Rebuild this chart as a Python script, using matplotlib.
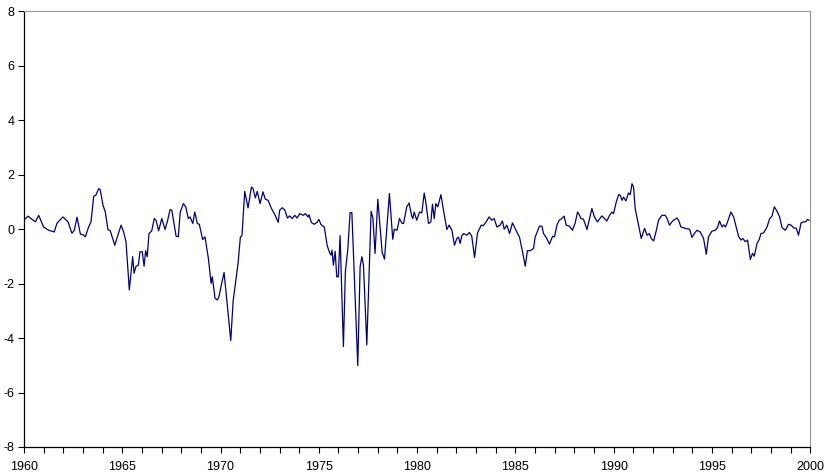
import numpy as np
import matplotlib; matplotlib.use("Agg")
import matplotlib.pyplot as plt
from matplotlib.ticker import MultipleLocator

# vertices (decimal year, value)
years = [
    1960.00, 1960.20, 1960.58, 1960.75, 1961.00, 1961.26, 1961.54, 1961.68, 1961.98, 1962.24,
    1962.44, 1962.56, 1962.70, 1962.87, 1963.00, 1963.12, 1963.29, 1963.41, 1963.55, 1963.66,
    1963.80, 1963.88, 1964.02, 1964.14, 1964.27, 1964.39, 1964.62, 1964.73, 1964.94, 1965.07,
    1965.19, 1965.36, 1965.53, 1965.60, 1965.70, 1965.82, 1965.90, 1966.02, 1966.11, 1966.19,
    1966.27, 1966.36, 1966.50, 1966.63, 1966.72, 1966.85, 1967.01, 1967.18, 1967.31, 1967.43,
    1967.52, 1967.74, 1967.85, 1967.95, 1968.11, 1968.23, 1968.36, 1968.45, 1968.59, 1968.69,
    1968.82, 1968.92, 1969.09, 1969.21, 1969.38, 1969.52, 1969.58, 1969.72, 1969.84, 1969.92,
    1970.04, 1970.18, 1970.52, 1970.64, 1970.89, 1971.01, 1971.09, 1971.23, 1971.40, 1971.57,
    1971.65, 1971.77, 1971.87, 1972.01, 1972.16, 1972.28, 1972.42, 1972.59, 1972.76, 1972.93,
    1973.01, 1973.14, 1973.27, 1973.40, 1973.52, 1973.64, 1973.78, 1973.89, 1974.03, 1974.20,
    1974.32, 1974.45, 1974.50, 1974.62, 1974.76, 1974.91, 1975.00, 1975.11, 1975.28, 1975.42,
    1975.54, 1975.62, 1975.67, 1975.74, 1975.83, 1975.91, 1975.99, 1976.08, 1976.25, 1976.35,
    1976.47, 1976.59, 1976.68, 1976.98, 1977.10, 1977.19, 1977.27, 1977.44, 1977.66, 1977.75,
    1977.86, 1978.00, 1978.13, 1978.22, 1978.34, 1978.59, 1978.76, 1978.84, 1978.98, 1979.10,
    1979.24, 1979.31, 1979.47, 1979.59, 1979.72, 1979.78, 1979.85, 1979.98, 1980.12, 1980.24,
    1980.36, 1980.44, 1980.58, 1980.70, 1980.78, 1980.87, 1980.95, 1981.05, 1981.21, 1981.34,
    1981.51, 1981.63, 1981.77, 1981.90, 1982.02, 1982.10, 1982.19, 1982.27, 1982.36, 1982.53,
    1982.66, 1982.78, 1982.92, 1983.07, 1983.26, 1983.37, 1983.51, 1983.66, 1983.80, 1983.92,
    1984.06, 1984.22, 1984.34, 1984.43, 1984.56, 1984.70, 1984.85, 1985.07, 1985.21, 1985.36,
    1985.50, 1985.61, 1985.75, 1985.92, 1986.00, 1986.14, 1986.22, 1986.35, 1986.43, 1986.58,
    1986.73, 1986.89, 1986.99, 1987.11, 1987.23, 1987.36, 1987.48, 1987.58, 1987.75, 1987.90,
    1988.04, 1988.16, 1988.26, 1988.33, 1988.46, 1988.64, 1988.89, 1989.02, 1989.17, 1989.40,
    1989.52, 1989.65, 1989.79, 1989.91, 1989.99, 1990.13, 1990.25, 1990.33, 1990.42, 1990.50,
    1990.62, 1990.75, 1990.84, 1990.93, 1991.01, 1991.09, 1991.23, 1991.40, 1991.57, 1991.69,
    1991.81, 1991.91, 1992.03, 1992.15, 1992.28, 1992.45, 1992.62, 1992.71, 1992.84, 1992.96,
    1993.04, 1993.22, 1993.30, 1993.42, 1993.64, 1993.86, 1993.98, 1994.10, 1994.23, 1994.40,
    1994.57, 1994.71, 1994.82, 1995.00, 1995.16, 1995.28, 1995.38, 1995.51, 1995.59, 1995.69,
    1995.79, 1995.96, 1996.10, 1996.23, 1996.35, 1996.47, 1996.57, 1996.69, 1996.81, 1996.95,
    1997.06, 1997.15, 1997.29, 1997.40, 1997.49, 1997.62, 1997.80, 1997.93, 1998.05, 1998.17,
    1998.30, 1998.44, 1998.56, 1998.73, 1998.89, 1999.02, 1999.15, 1999.29, 1999.40, 1999.53,
    1999.66, 1999.76, 1999.86, 1999.93,
]
values = [
    0.33, 0.48, 0.27, 0.51, 0.08, -0.04, -0.10, 0.22, 0.45, 0.27,
    -0.15, -0.04, 0.44, -0.18, -0.20, -0.28, 0.08, 0.27, 1.21, 1.25,
    1.49, 1.45, 0.88, 0.63, -0.01, -0.06, -0.59, -0.33, 0.15, -0.10,
    -0.46, -2.23, -1.01, -1.62, -1.36, -1.32, -0.83, -0.83, -1.36, -0.79,
    -1.01, -0.16, -0.06, 0.39, 0.33, -0.06, 0.39, -0.01, 0.33, 0.72,
    0.70, -0.26, -0.28, 0.63, 0.94, 0.82, 0.39, 0.45, 0.21, 0.63,
    0.21, 0.18, -0.38, -0.28, -1.07, -1.99, -1.75, -2.54, -2.60, -2.48,
    -2.05, -1.59, -4.09, -2.64, -1.26, -0.28, -0.24, 1.39, 0.78, 1.55,
    1.50, 1.15, 1.39, 0.94, 1.37, 1.10, 1.06, 0.76, 0.54, 0.25,
    0.70, 0.79, 0.70, 0.41, 0.49, 0.39, 0.51, 0.41, 0.57, 0.51,
    0.57, 0.45, 0.53, 0.25, 0.18, 0.25, 0.36, 0.17, 0.08, -0.59,
    -0.85, -0.95, -0.77, -1.32, -0.81, -1.75, -1.75, -0.24, -4.31, -1.56,
    -0.77, 0.61, 0.61, -5.01, -1.38, -1.01, -1.32, -4.25, 0.66, 0.41,
    -0.89, 1.10, -0.04, -0.85, -1.10, 1.31, -0.37, 0.00, -0.04, 0.39,
    0.21, 0.21, 0.82, 0.96, 0.50, 0.39, 0.63, 0.33, 0.63, 0.60,
    1.33, 1.00, 0.21, 0.27, 0.92, 0.39, 0.94, 0.82, 1.27, 0.70,
    -0.01, 0.15, -0.04, -0.59, -0.34, -0.29, -0.52, -0.25, -0.16, -0.22,
    -0.12, -0.26, -1.04, -0.14, 0.15, 0.13, 0.27, 0.45, 0.33, 0.39,
    0.08, 0.15, 0.30, 0.00, 0.15, -0.16, 0.23, -0.10, -0.30, -0.83,
    -1.36, -0.79, -0.79, -0.71, -0.30, -0.04, 0.11, 0.11, -0.16, -0.32,
    -0.55, -0.26, -0.28, 0.15, 0.33, 0.39, 0.48, 0.15, 0.11, -0.04,
    0.23, 0.63, 0.52, 0.39, 0.37, -0.01, 0.76, 0.45, 0.27, 0.49,
    0.40, 0.30, 0.51, 0.63, 0.57, 1.00, 1.27, 1.25, 1.06, 1.18,
    1.04, 1.33, 1.27, 1.67, 1.55, 0.76, 0.27, -0.34, 0.03, -0.22,
    -0.16, -0.34, -0.43, -0.10, 0.33, 0.51, 0.51, 0.40, 0.15, 0.27,
    0.33, 0.41, 0.33, 0.08, 0.03, 0.00, -0.30, -0.16, -0.04, -0.10,
    -0.34, -0.92, -0.28, -0.07, -0.04, 0.06, 0.30, 0.08, 0.16, 0.08,
    0.27, 0.63, 0.45, 0.08, -0.26, -0.40, -0.34, -0.46, -0.40, -1.11,
    -0.89, -0.99, -0.52, -0.38, -0.16, -0.14, 0.08, 0.39, 0.48, 0.82,
    0.67, 0.45, 0.06, -0.04, 0.18, 0.15, 0.05, 0.03, -0.22, 0.23,
    0.27, 0.27, 0.36, 0.33,
]
year_labels = [1960, 1965, 1970, 1975, 1980, 1985, 1990, 1995, 2000]
y_ticks = [-8, -6, -4, -2, 0, 2, 4, 6, 8]

plt.rcParams['font.family'] = ['Liberation Sans', 'DejaVu Sans']

fig = plt.figure(figsize=(8.26, 4.76), dpi=100)
ax = fig.add_axes([0.029, 0.061, 0.952, 0.915])
ax.plot(years, values, color="#000080", lw=0.9)

ax.set_xlim(1960, 2000)
ax.set_ylim(-8, 8)
ax.set_xticks(year_labels)
ax.set_xticklabels([str(y) for y in year_labels])
ax.xaxis.set_minor_locator(MultipleLocator(1))
ax.set_yticks(y_ticks)
ax.set_yticklabels([str(v) for v in y_ticks])
ax.tick_params(axis="both", which="both", direction="out", length=4, width=0.8,
               labelsize=9, colors="black")
ax.tick_params(axis="x", pad=6)
ax.tick_params(axis="y", pad=3)
for side in ["top", "right"]:
    ax.spines[side].set_color("#999999")
    ax.spines[side].set_linewidth(0.8)
for side in ["left", "bottom"]:
    ax.spines[side].set_color("black")
    ax.spines[side].set_linewidth(0.9)

plt.savefig("out.png", dpi=100)
plt.close()
